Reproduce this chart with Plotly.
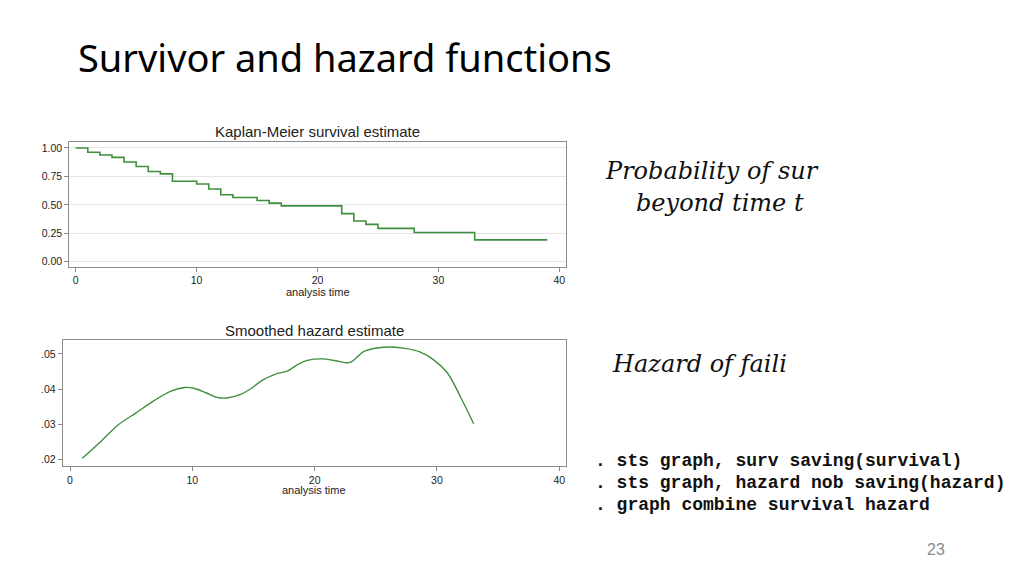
import plotly.graph_objects as go

# Kaplan-Meier step estimate
km_time = [0, 1, 2, 3, 4, 5, 6, 7, 8, 10, 11, 12, 13, 15, 16, 17, 22, 23, 24, 25, 28, 33, 39]
km_surv = [1.00, 0.962, 0.938, 0.917, 0.876, 0.837, 0.793, 0.772, 0.707, 0.683, 0.639, 0.589,
           0.565, 0.538, 0.515, 0.491, 0.423, 0.358, 0.328, 0.293, 0.257, 0.192, 0.192]

# smoothed hazard estimate
haz_time = [1.0, 2.5, 3.9, 5.4, 6.8, 8.2, 9.4, 10.2, 11.1, 12.0, 12.8, 14.0, 14.8, 15.7, 16.8,
            17.8, 18.6, 19.4, 20.6, 21.7, 22.7, 23.1, 24.0, 25.1, 26.3, 27.4, 28.6, 29.7,
            30.9, 32.0, 33.0]
haz_val = [0.0204, 0.0251, 0.0298, 0.0333, 0.0366, 0.0394, 0.0405, 0.0402, 0.0390, 0.0377,
           0.0375, 0.0386, 0.0402, 0.0425, 0.0443, 0.0452, 0.0470, 0.0482, 0.0486, 0.0481,
           0.0475, 0.0480, 0.0507, 0.0517, 0.0520, 0.0516, 0.0506, 0.0484, 0.0444, 0.0373,
           0.0302]

x_ticks = [0, 10, 20, 30, 40]
km_yticks = [0.0, 0.25, 0.5, 0.75, 1.0]
haz_yticks = [0.02, 0.03, 0.04, 0.05]
haz_yticktext = [".02", ".03", ".04", ".05"]

code_lines = [". sts graph, surv saving(survival)",
              ". sts graph, hazard nob saving(hazard)",
              ". graph combine survival hazard"]

GREEN = "#3f8f3f"
FRAME = "#8c8c8c"
W, H = 1024, 575
OFF = 8  # page body margin pushes the plot 8px right/down


def fx(px):
    return (px - OFF) / W


def fy(py):
    return 1 - (py - OFF) / H


fig = go.Figure()
fig.add_trace(go.Scatter(x=km_time, y=km_surv, mode="lines", line_shape="hv",
                         line=dict(color=GREEN, width=1.6), xaxis="x", yaxis="y",
                         showlegend=False, hoverinfo="skip"))
fig.add_trace(go.Scatter(x=haz_time, y=haz_val, mode="lines", line_shape="spline",
                         line=dict(color=GREEN, width=1.4, smoothing=0.8), xaxis="x2", yaxis="y2",
                         showlegend=False, hoverinfo="skip"))

tickfont = dict(family="Liberation Sans, Arial", size=10.5, color="#222")
axis_common = dict(showline=True, linecolor=FRAME, linewidth=1, mirror=True, ticks="outside",
                   ticklen=4, tickcolor=FRAME, tickfont=tickfont, zeroline=False)

fig.update_layout(
    width=W, height=H,
    margin=dict(l=0, r=0, t=0, b=0),
    paper_bgcolor="white", plot_bgcolor="white",
    xaxis=dict(domain=[fx(69.3), fx(566)], range=[-0.53, 40.55], tickvals=x_ticks,
               showgrid=False, anchor="y", **axis_common),
    yaxis=dict(domain=[fy(266.5), fy(141.7)], range=[-0.042, 1.055],
               tickvals=km_yticks, tickformat=".2f", showgrid=True, gridcolor="#e4e4e4",
               anchor="x", **axis_common),
    xaxis2=dict(domain=[fx(62.7), fx(566)], range=[-0.6, 40.55], tickvals=x_ticks,
                showgrid=False, anchor="y2", **axis_common),
    yaxis2=dict(domain=[fy(466.3), fy(340)], range=[0.01813, 0.05397],
                tickvals=haz_yticks, ticktext=haz_yticktext, showgrid=False,
                anchor="x2", **axis_common),
)


def px_note(text, x, y, size, family, color="#111", xanchor="left", **kw):
    fig.add_annotation(text=text, x=fx(x), y=fy(y), xref="paper", yref="paper",
                       xanchor=xanchor, yanchor="middle", showarrow=False,
                       font=dict(size=size, family=family, color=color), **kw)


px_note("Survivor and hazard functions", 76, 57, 38, "Noto Sans, Open Sans", color="#000")
px_note("Kaplan-Meier survival estimate", 317.6, 131, 15, "Liberation Sans, Arial",
        color="#222", xanchor="center")
px_note("analysis time", 317.6, 292, 11, "Liberation Sans, Arial", color="#222",
        xanchor="center")
px_note("Smoothed hazard estimate", 314, 330, 15, "Liberation Sans, Arial",
        color="#222", xanchor="center")
px_note("analysis time", 314, 490, 11, "Liberation Sans, Arial", color="#222",
        xanchor="center")

px_note("<i>Probability of sur</i>", 603, 171, 24, "DejaVu Serif", color="#111")
px_note("<i>beyond time t</i>", 634, 203, 24, "DejaVu Serif", color="#111")
px_note("<i>Hazard of faili</i>", 610, 364, 24, "DejaVu Serif", color="#111")

for i, line in enumerate(code_lines):
    px_note("<b>" + line + "</b>", 593, 461 + 22 * i, 18, "Liberation Mono, Courier New",
            color="#111")

px_note("23", 936, 549, 16, "Liberation Sans, Arial", color="#8a8a8a", xanchor="center")

fig.write_html("out.html")
